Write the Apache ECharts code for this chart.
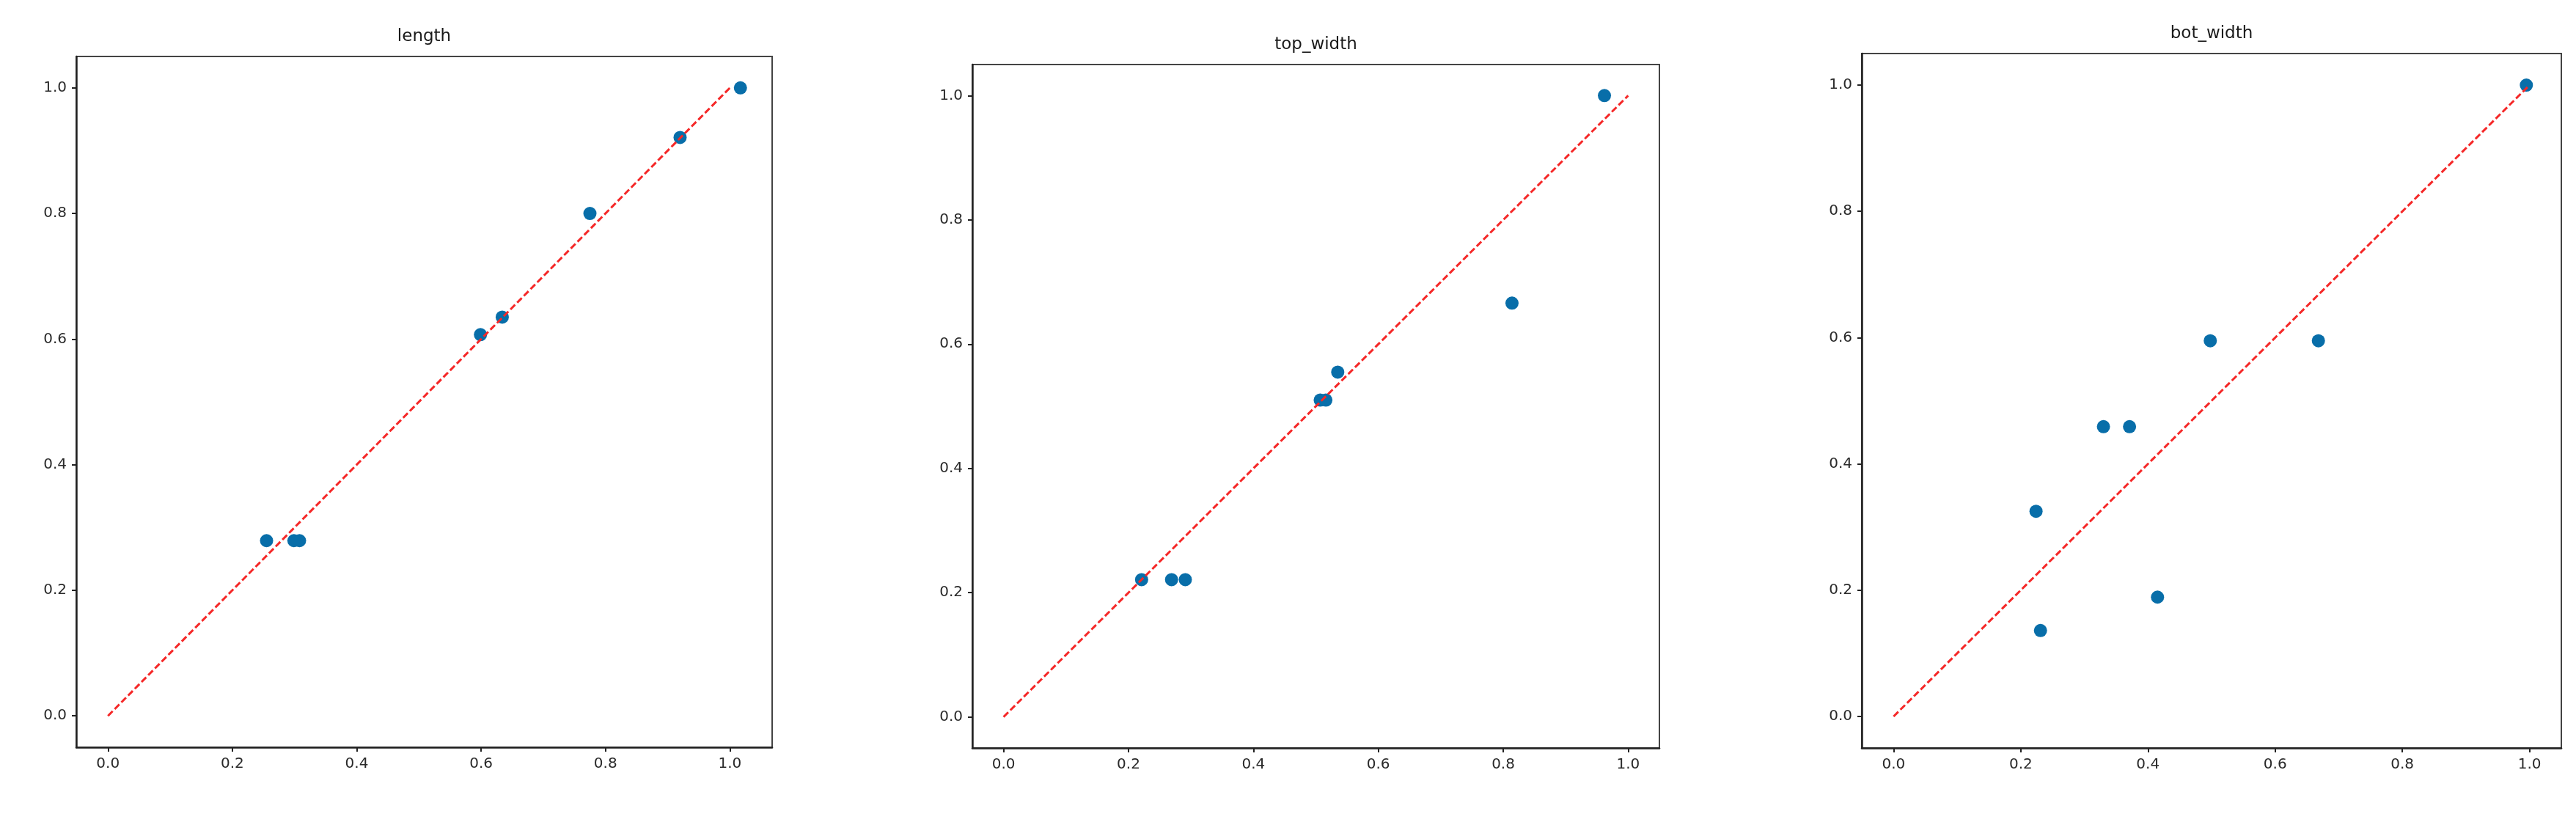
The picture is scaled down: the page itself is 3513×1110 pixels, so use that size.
<!DOCTYPE html>
<html>
<head>
<meta charset="utf-8">
<script src="https://cdn.jsdelivr.net/npm/echarts@6/dist/echarts.min.js"></script>
<style>
html, body { margin: 0; padding: 0; background: #fff; }
#main { width: 3513px; height: 1110px; }
</style>
</head>
<body>
<div id="main"></div>
<script>
// panel titles
var titles = ['length', 'top_width', 'bot_width'];

// tick values shared by all axes
var tickValues = [0, 0.2, 0.4, 0.6, 0.8, 1.0];

// length
var lengthX = [0.255, 0.299, 0.308, 0.599, 0.634, 0.775, 0.920, 1.017];
var lengthY = [0.279, 0.279, 0.279, 0.607, 0.635, 0.800, 0.921, 1.000];

// top_width
var topX = [0.221, 0.269, 0.291, 0.507, 0.516, 0.535, 0.814, 0.962];
var topY = [0.221, 0.221, 0.221, 0.510, 0.510, 0.555, 0.666, 1.000];

// bot_width
var botX = [0.224, 0.231, 0.330, 0.371, 0.415, 0.498, 0.668, 0.995];
var botY = [0.325, 0.136, 0.459, 0.459, 0.189, 0.595, 0.595, 1.000];

// y = x reference line
var refLine = [[0, 0], [1, 1]];

var xs = [lengthX, topX, botX];
var ys = [lengthY, topY, botY];

// frame boxes (left, top, right, bottom) and x ranges
var boxes = [
    [104, 77, 1053, 1019],
    [1326, 88, 2263, 1020],
    [2539, 73, 3493, 1020]
];
var xRanges = [[-0.051, 1.068], [-0.05, 1.05], [-0.05, 1.05]];

var mychart = echarts.init(document.getElementById('main'));

var grids = [], xAxes = [], yAxes = [], series = [], graphics = [];

function fmt(v) { return v.toFixed(1); }

for (var i = 0; i < 3; i++) {
    var b = boxes[i];
    grids.push({
        left: b[0], top: b[1], width: b[2] - b[0], height: b[3] - b[1],
        show: true, borderColor: '#444', borderWidth: 2, backgroundColor: '#fff'
    });
    var axisCommon = {
        type: 'value',
        gridIndex: i,
        splitLine: { show: false },
        axisLine: { show: true, onZero: false, lineStyle: { color: '#222', width: 2.5 } },
        axisTick: { show: true, length: 6, lineStyle: { color: '#222', width: 2 }, customValues: tickValues },
        axisLabel: {
            color: '#2a2a2a', fontFamily: 'DejaVu Sans', fontSize: 20,
            customValues: tickValues, formatter: fmt
        }
    };
    xAxes.push(Object.assign({}, axisCommon, {
        min: xRanges[i][0], max: xRanges[i][1],
        axisLabel: Object.assign({}, axisCommon.axisLabel, { margin: 13 })
    }));
    yAxes.push(Object.assign({}, axisCommon, {
        min: -0.05, max: 1.05,
        axisLabel: Object.assign({}, axisCommon.axisLabel, { margin: 13 })
    }));

    var pts = [];
    for (var k = 0; k < xs[i].length; k++) pts.push([xs[i][k], ys[i][k]]);

    series.push({
        type: 'scatter',
        xAxisIndex: i, yAxisIndex: i,
        data: pts,
        symbolSize: 18,
        itemStyle: { color: '#086ea9', opacity: 1 },
        z: 2
    });
    series.push({
        type: 'line',
        xAxisIndex: i, yAxisIndex: i,
        data: refLine,
        symbol: 'none',
        lineStyle: { color: '#f52828', width: 3, type: [9, 4] },
        z: 3
    });

    graphics.push({
        type: 'text',
        x: (b[0] + b[2]) / 2,
        y: b[1] - 27,
        style: {
            text: titles[i],
            fill: '#1a1a1a',
            font: '23px "DejaVu Sans"',
            textAlign: 'center',
            textVerticalAlign: 'middle'
        }
    });
}

var option = {
    backgroundColor: '#fff',
    animation: false,
    grid: grids,
    xAxis: xAxes,
    yAxis: yAxes,
    series: series,
    graphic: graphics
};
mychart.setOption(option);
</script>
</body>
</html>
